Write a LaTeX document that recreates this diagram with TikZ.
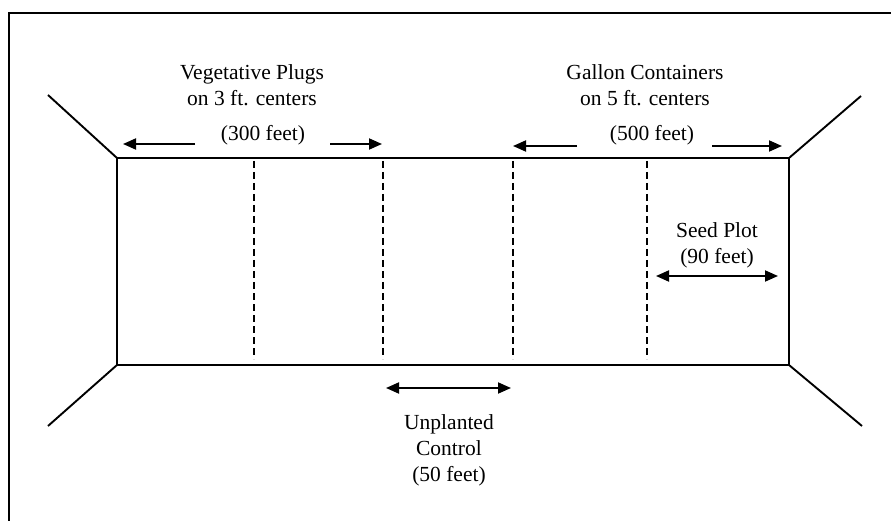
\documentclass[tikz,border=0pt]{standalone}
\usepackage{fontspec}
\setmainfont{Liberation Serif}
\usetikzlibrary{arrows.meta}
\begin{document}
\begin{tikzpicture}[x=1pt,y=-1pt,
  lbl/.style={align=center,inner sep=0pt,font=\fontsize{21.5}{26}\selectfont},
  frame/.style={line width=2.4pt},
  plot/.style={line width=2.8pt},
  wing/.style={line width=1.9pt},
  divider/.style={line width=1.3pt,dash pattern=on 7pt off 4pt},
  dim/.style={line width=1.9pt,-{Triangle[length=13pt,width=11pt]}},
  dimboth/.style={line width=1.9pt,{Triangle[length=13pt,width=11pt]}-{Triangle[length=13pt,width=11pt]}}]
\useasboundingbox (0,0) rectangle (891,521);
% outer frame (left and top edges)
\coordinate (fb) at (9,521);
\coordinate (fc) at (9,13);
\coordinate (fr) at (891,13);
\draw[frame] (fb) -- (fc) -- (fr);
% plot rectangle
\coordinate (tl) at (117,158);
\coordinate (tr) at (789,158);
\coordinate (br) at (789,365);
\coordinate (bl) at (117,365);
\draw[plot] (tl) -- (tr) -- (br) -- (bl) -- cycle;
% wings
\coordinate (wtl) at (48,95);
\coordinate (wtr) at (861,96);
\coordinate (wbl) at (48,426);
\coordinate (wbr) at (862,426);
\draw[wing] (wtl) -- (tl);
\draw[wing] (wtr) -- (tr);
\draw[wing] (wbl) -- (bl);
\draw[wing] (wbr) -- (br);
% dividers
\foreach \n/\x in {d1/254,d2/383,d3/513,d4/647}{
  \coordinate (\n t) at (\x,161);
  \coordinate (\n b) at (\x,359);
  \draw[divider] (\n t) -- (\n b);
}
% labels
\node[lbl] (veg) at (252,85) {Vegetative Plugs\\on 3 ft. centers};
\node[lbl] (v300) at (263,135) {(300 feet)};
\node[lbl] (gal) at (645,85) {Gallon Containers\\on 5 ft. centers};
\node[lbl] (g500) at (652,135) {(500 feet)};
\node[lbl] (seed) at (717,245.5) {Seed Plot\\(90 feet)};
\node[lbl] (ctrl) at (449,450) {Unplanted\\Control\\(50 feet)};
% dimension arrows
\coordinate (a1s) at (195,144); \coordinate (a1e) at (123,144);
\coordinate (a2s) at (330,144); \coordinate (a2e) at (382,144);
\coordinate (a3s) at (577,146); \coordinate (a3e) at (513,146);
\coordinate (a4s) at (712,146); \coordinate (a4e) at (782,146);
\draw[dim] (a1s) -- (a1e);
\draw[dim] (a2s) -- (a2e);
\draw[dim] (a3s) -- (a3e);
\draw[dim] (a4s) -- (a4e);
\coordinate (s1) at (656,276); \coordinate (s2) at (778,276);
\draw[dimboth] (s1) -- (s2);
\coordinate (c1) at (386,388); \coordinate (c2) at (511,388);
\draw[dimboth] (c1) -- (c2);
\end{tikzpicture}
\end{document}
